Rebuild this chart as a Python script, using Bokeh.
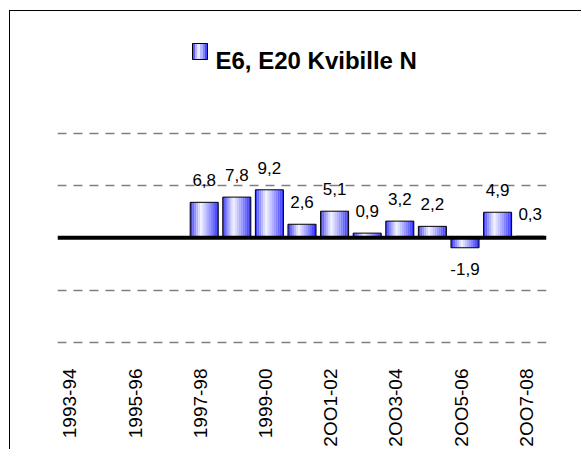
import numpy as np
from bokeh.plotting import figure
from bokeh.models import (ColumnDataSource, Range1d, FixedTicker, Span, Label,
                          BoxAnnotation)
from bokeh.embed import file_html
from bokeh.resources import INLINE

# ---- data ----
categories = ["1993-94", "1994-95", "1995-96", "1996-97", "1997-98", "1998-99",
              "1999-00", "2000-01", "2001-02", "2002-03", "2003-04", "2004-05",
              "2005-06", "2006-07", "2007-08"]
values = [np.nan, np.nan, np.nan, np.nan, 6.8, 7.8, 9.2, 2.6, 5.1, 0.9, 3.2,
          2.2, -1.9, 4.9, 0.3]
series_name = "E6, E20 Kvibille N"
tick_labels = {0: "1993-94", 2: "1995-96", 4: "1997-98", 6: "1999-00",
               8: "2OO1-02", 10: "2OO3-04", 12: "2OO5-06", 14: "2OO7-08"}
grid_values = [-20, -10, 10, 20]

# ---- layout constants (pixels) ----
MARGIN_X, MARGIN_Y = 9, 10          # outer offset of the chart frame line
ORIGIN_X, ORIGIN_Y = MARGIN_X + 1, MARGIN_Y + 1   # canvas origin on page
BORDER_L, BORDER_T, BORDER_R = 47, 7, 35
FRAME_W, FRAME_H = 489, 329
Y_LO, Y_HI = -21, 42
X_LO, X_HI = -0.5, len(categories) - 0.5
LABEL_SHIFT = -0.12                 # small leftward nudge of category labels


def page_x(px):
    """page pixel x -> data x"""
    return X_LO + (px - ORIGIN_X - BORDER_L) / FRAME_W * (X_HI - X_LO)


def page_y(py):
    """page pixel y -> data y"""
    return Y_HI - (py - ORIGIN_Y - BORDER_T) / FRAME_H * (Y_HI - Y_LO)


# ---- figure ----
p = figure(frame_width=FRAME_W, frame_height=FRAME_H, output_backend="svg",
           toolbar_location=None,
           x_range=Range1d(X_LO, X_HI), y_range=Range1d(Y_LO, Y_HI),
           min_border_left=BORDER_L, min_border_right=BORDER_R,
           min_border_top=BORDER_T, min_border_bottom=0)
p.outline_line_color = None
p.background_fill_color = "white"
p.border_fill_color = "white"
p.styles = {"border-left": "1px solid black", "border-top": "1px solid black",
            "margin-left": f"{MARGIN_X}px", "margin-top": f"{MARGIN_Y}px"}

p.yaxis.visible = False
p.xgrid.visible = False
p.ygrid.ticker = FixedTicker(ticks=grid_values)
p.ygrid.grid_line_color = "#7f7f7f"
p.ygrid.grid_line_dash = "9 7"
p.ygrid.grid_line_width = 1.5

tick_pos = {k + LABEL_SHIFT: v for k, v in tick_labels.items()}
ax = p.xaxis[0]
ax.ticker = FixedTicker(ticks=sorted(tick_pos.keys()))
ax.major_label_overrides = tick_pos
ax.major_label_orientation = np.pi / 2
ax.axis_line_color = None
ax.major_tick_line_color = None
ax.minor_tick_line_color = None
ax.major_tick_out = 0
ax.major_tick_in = 0
ax.minor_tick_out = 0
ax.axis_label_standoff = 0
ax.major_label_standoff = 21
ax.major_label_text_font = "Liberation Sans"
ax.major_label_text_font_size = "19px"
ax.major_label_text_color = "black"

# ---- gradient bars built from strips ----
xs = np.arange(len(categories), dtype=float)
vals = np.array(values, dtype=float)
bar_w = 0.86
n_strips = 14
sw = bar_w / n_strips
blue = np.array([34, 34, 255])
white = np.array([244, 244, 255])
PEAK = 0.38


def grad_color(t):
    w = 1 - (PEAK - t) / PEAK if t < PEAK else 1 - (t - PEAK) / (1 - PEAK)
    w = max(0.0, min(1.0, w)) ** 0.85
    c = blue + (white - blue) * w
    return "#%02x%02x%02x" % tuple(int(round(v)) for v in c)


for k in range(n_strips):
    col = grad_color((k + 0.5) / n_strips)
    src = ColumnDataSource(dict(x=xs - bar_w / 2 + (k + 0.5) * sw, top=vals))
    p.vbar(x="x", top="top", bottom=0, width=sw * 1.05, source=src,
           fill_color=col, line_color=None)

outline_src = ColumnDataSource(dict(x=xs, top=vals))
p.vbar(x="x", top="top", bottom=0, width=bar_w, source=outline_src,
       fill_color=None, line_color="black", line_width=1)

# zero axis line
p.add_layout(Span(location=0, dimension="width", line_color="black",
                  line_width=4))

# value labels
mask = ~np.isnan(vals)
lab_src = ColumnDataSource(dict(
    x=xs[mask], y=vals[mask],
    txt=[("%.1f" % v).replace(".", ",") for v in vals[mask]],
    off=[-22 if v >= 0 else 21 for v in vals[mask]]))
p.text(x="x", y="y", text="txt", y_offset="off", source=lab_src,
       text_align="center", text_baseline="middle",
       text_font_size="17px", text_color="black",
       text_font={"value": "Liberation Sans"})

# title with legend icon
p.add_layout(Label(x=page_x(215), y=page_y(59.5),
                   text=series_name, text_font="Liberation Sans",
                   text_font_size="24px", text_font_style="bold",
                   text_align="left", text_baseline="alphabetic",
                   text_color="black"))
icon_l, icon_r, icon_t, icon_b = 192, 207, 43, 59
n_ic = 6
iw = (icon_r - icon_l) / n_ic
for k in range(n_ic):
    col = grad_color((k + 0.5) / n_ic)
    p.add_layout(BoxAnnotation(left=page_x(icon_l + k * iw),
                               right=page_x(icon_l + (k + 1) * iw),
                               top=page_y(icon_t), bottom=page_y(icon_b),
                               fill_color=col, fill_alpha=1, line_color=None))
p.add_layout(BoxAnnotation(left=page_x(icon_l), right=page_x(icon_r),
                           top=page_y(icon_t), bottom=page_y(icon_b),
                           fill_alpha=0, line_color="black", line_alpha=1,
                           line_width=1))

open("out.html", "w").write(file_html(p, INLINE))
